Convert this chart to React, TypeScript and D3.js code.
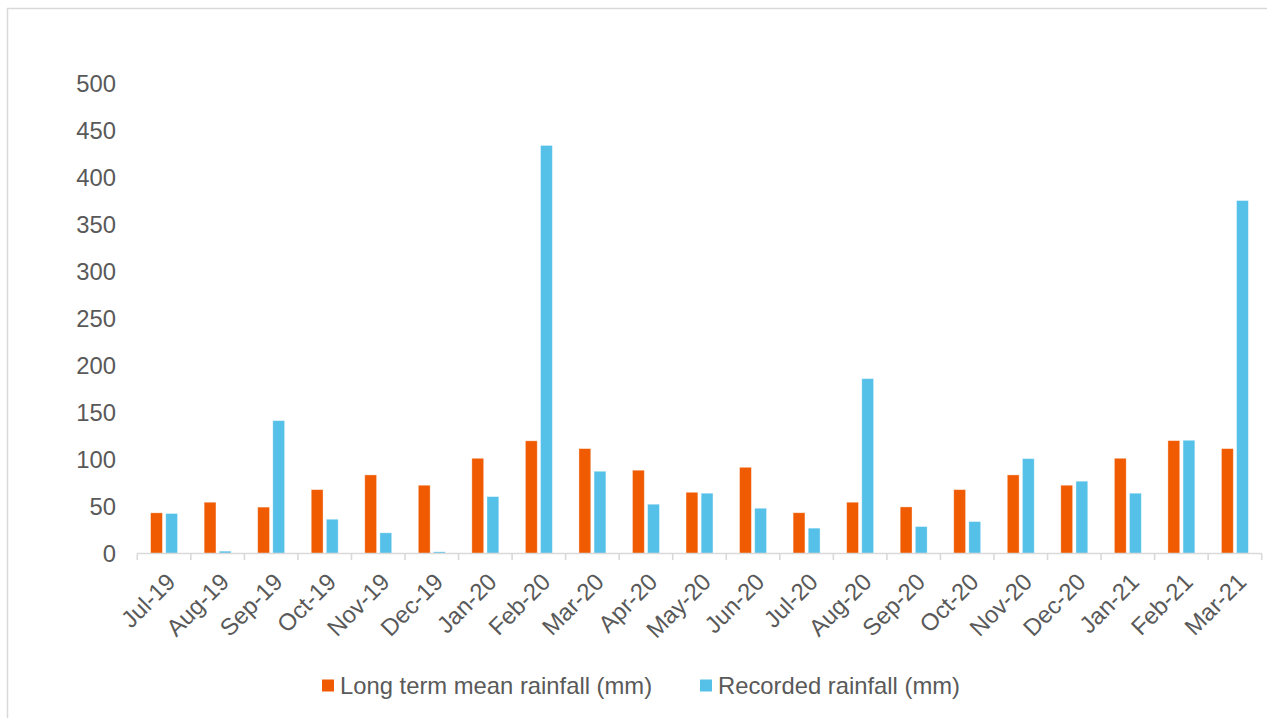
import React from "react";
import * as d3 from "d3";

const categories = [
  "Jul-19", "Aug-19", "Sep-19", "Oct-19", "Nov-19", "Dec-19", "Jan-20", "Feb-20",
  "Mar-20", "Apr-20", "May-20", "Jun-20", "Jul-20", "Aug-20", "Sep-20", "Oct-20",
  "Nov-20", "Dec-20", "Jan-21", "Feb-21", "Mar-21",
];
const longTermMean = [
  43.3, 54.6, 49.4, 68, 83.7, 72.7, 101.4, 120, 111.7, 88.7, 65.2, 91.8,
  43.4, 54.6, 49.6, 68, 83.7, 72.7, 101.4, 120.2, 111.7,
];
const recorded = [
  42.6, 2.5, 141.5, 36.5, 22, 1.8, 60.6, 434.6, 87.6, 52.5, 64.2, 48.2,
  27, 186.2, 28.7, 34, 101, 77, 64.2, 120.6, 375.9,
];
const yTicks = [0, 50, 100, 150, 200, 250, 300, 350, 400, 450, 500];
const seriesNames = ["Long term mean rainfall (mm)", "Recorded rainfall (mm)"];
const seriesColors = ["#F05A00", "#56C1E8"];

const W = 1267;
const H = 718;
const FONT = "'Liberation Sans', Arial, sans-serif";
const TEXT = "#595959";
const AXIS = "#D9D9D9";

export default function App() {
  const x0 = d3.scaleBand<string>().domain(categories).range([137.3, 1261.7]).paddingInner(0).paddingOuter(0);
  const x1 = d3.scaleBand<number>().domain([0, 1]).range([0, x0.bandwidth()]).paddingInner(0.2185).paddingOuter(0.88);
  const y = d3.scaleLinear().domain([0, 500]).range([553.5, 84]);
  const series = [longTermMean, recorded];
  const base = y(0);

  const boundaries = categories.map((c) => x0(c) as number).concat([(x0(categories[categories.length - 1]) as number) + x0.bandwidth()]);

  return (
    <svg width={W} height={H} style={{ position: "absolute", left: 0, top: 0 }} fontFamily={FONT}>
      <rect x={0} y={0} width={W} height={H} fill="#fff" />
      <rect x={7.5} y={8.5} width={W + 20} height={H + 20} fill="none" stroke={AXIS} strokeWidth={1.5} />

      {yTicks.map((t) => (
        <text key={t} x={116} y={y(t)} dy="0.35em" textAnchor="end" fontSize={23.8} fill={TEXT}>
          {t}
        </text>
      ))}

      {series.map((vals, si) =>
        vals.map((v, i) => {
          const c = categories[i];
          const bx = (x0(c) as number) + (x1(si) as number);
          return (
            <rect
              key={`${si}-${i}`}
              x={bx}
              y={y(v)}
              width={x1.bandwidth()}
              height={base - y(v)}
              fill={seriesColors[si]}
              stroke="#ffffff"
              strokeOpacity={0.45}
              strokeWidth={0.8}
            />
          );
        })
      )}

      <line x1={boundaries[0]} x2={boundaries[boundaries.length - 1]} y1={base} y2={base} stroke={AXIS} strokeWidth={1.6} />
      {boundaries.map((bx, i) => (
        <line key={i} x1={bx} x2={bx} y1={base} y2={base + 6.5} stroke={AXIS} strokeWidth={1.6} />
      ))}

      {categories.map((c) => {
        const cx = (x0(c) as number) + x0.bandwidth() / 2 + 7;
        const cy = base + 24;
        return (
          <text
            key={c}
            x={cx}
            y={cy}
            textAnchor="end"
            dy="0.35em"
            fontSize={23.8}
            fill={TEXT}
            transform={`rotate(-45, ${cx}, ${cy})`}
          >
            {c}
          </text>
        );
      })}

      {seriesNames.map((name, i) => {
        const lx = i === 0 ? 322 : 700;
        return (
          <g key={name}>
            <rect x={lx} y={679.5} width={12} height={12} fill={seriesColors[i]} />
            <text x={lx + 18} y={686} dy="0.35em" fontSize={23.8} fill={TEXT}>
              {name}
            </text>
          </g>
        );
      })}
    </svg>
  );
}
